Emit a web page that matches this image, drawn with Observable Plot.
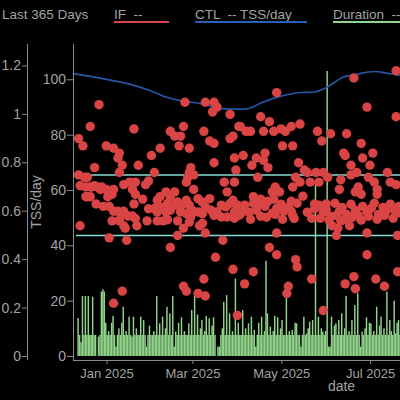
<!DOCTYPE html>
<html>
<head>
<meta charset="utf-8">
<script src="https://cdn.jsdelivr.net/npm/d3@7"></script>
<script src="https://cdn.jsdelivr.net/npm/@observablehq/plot@0.6"></script>
<style>
html, body { margin: 0; padding: 0; background: #000; overflow: hidden; width: 400px; height: 400px; }
#wrap { position: relative; width: 640px; }
#legend { position: relative; width: 640px; height: 30px; font-family: "Liberation Sans", Arial, sans-serif; font-size: 13.5px; color: #a3a3a3; }
#legend .item { position: absolute; top: 7.5px; line-height: 13.5px; white-space: pre; }
#legend .bar { position: absolute; top: 20.5px; height: 2px; }
#chart { width: 640px; }
#ylabel { position: absolute; left: 36px; top: 202px; transform: translate(-50%, -50%) rotate(-90deg); font-family: "Liberation Sans", Arial, sans-serif; font-size: 14px; line-height: 14px; color: #a3a3a3; white-space: nowrap; }
</style>
</head>
<body>
<div id="wrap">
<div id="legend"></div>
<div id="chart"></div>
<div id="ylabel"></div>
</div>
<script>
// ---------------- data ----------------
const DAY = 864e5;
const title = "Last 365 Days";
const legendItems = [
  {label: "IF  --", color: "#d94444", left: 114, width: 55},
  {label: "CTL  -- TSS/day", color: "#2a5fb3", left: 195, width: 112},
  {label: "Duration  --", color: "#90d48a", left: 333, width: 130}
];
const domainStart = "2024-12-09";
const domainEnd = "2025-12-12";
const xTickDates = ["2025-01-01", "2025-03-01", "2025-05-01", "2025-07-01"];
const tssTicks = [0, 20, 40, 60, 80, 100];
const ifTicks = [0, 0.2, 0.4, 0.6, 0.8, 1, 1.2];
const ifRefLines = [0.5, 0.75];
const tssMax = 112.75, tssMin = -1.45;
const ifAxisTop = 1.2, tssAtIfTop = 105; // IF 1.2 is drawn level with 105 TSS/day
const yLabel = "TSS/day", xLabel = "date";

// CTL (TSS/day), days counted from 2025-01-01
const ctlOrigin = "2025-01-01";
const ctlDays   = [-23, -3, 14, 28, 41, 52, 66, 80, 91, 96, 107, 119, 133, 141, 151, 162, 171, 183, 192, 201];
const ctlValues = [102.2, 100.4, 98.6, 96.4, 93.7, 92.3, 91.3, 89.5, 89.4, 89.5, 91.9, 94.0, 95.4, 95.5, 97.3, 100.9, 101.9, 103.0, 102.4, 101.6];

// Daily duration bars, one value per day from 2024-12-09
const durationStart = "2024-12-09";
const durationValues = [
  0,0,0,13.7,7.6,5,21.7,7.6,21.7,7.6,
  21.7,7.6,7.6,21.4,7.6,7.6,0,7,7.6,23.3,
  24.1,23.3,12,7.6,9,7.6,12,14.5,7.6,3.4,
  7.6,10,7.6,12,17.8,7.6,9,7.6,14.2,7.6,
  7,14.2,7.6,10,7.6,7.6,14.2,7.6,13,7.6,
  3.4,7.6,11,7.6,7.6,9,7.6,21.7,7.6,11.8,
  7.6,14.2,7.6,10,17.8,7.6,15.4,7.6,21.7,3.4,
  8.8,7.6,12,7.6,14,7.6,9,7.6,7.6,11.8,
  7.6,16.6,7.6,21.7,7.6,15,7.6,10,13,7.6,
  9,14.5,7.6,13.6,7.6,11,14,7.6,0,3.4,
  3.4,7.6,10,19.6,7.6,22,7.6,15.4,7.6,9,
  7.6,28,7.6,12,7.6,7.6,16.6,7.6,10,7.6,
  11.8,7.6,14.2,7.6,9.4,3.4,7.6,12,7.6,14.2,
  7.6,9,34.4,15.4,7.6,10.6,7.6,9,14.5,7.6,
  14,7.6,10,13,7.6,7.6,21.4,7.6,9,7.6,
  9.4,7.6,12,11.8,7.6,7.6,3.4,7.6,14.2,7.6,
  8.2,10,12.4,7.6,13,7.6,63,7.6,14.2,7.6,
  10,8.8,7.6,9,103,3.4,3.4,14.2,7.6,11,
  11.8,7.6,13,7.6,15.4,7.6,10,21.7,7.6,9,
  7.6,13,7.6,18.4,7.6,22.7,7.6,3.4,8.8,7.6,
  10,14,7.6,12,11.8,7.6,9,7.6,17.8,7.6,
  11,14.2,7.6,10,7.6,23.3,7.6,13,9,7.6,
  20,8.2,12,13,7.6
];

// IF readings: [day from 2025-01-01, IF]
const ifOrigin = "2025-01-01";
const ifReadings = [
  [-6,1.04],[53,1.05],[67,1.05],[73,1.05],[75,1.03],[72,1.01],[84,1.00],[-12,0.95],[18,0.94],[52,0.95],
  [66,0.93],[90,0.95],[43,0.93],[46,0.91],[50,0.91],[-20,0.90],[-17,0.87],[-1,0.87],[4,0.86],[36,0.86],
  [49,0.87],[56,0.86],[70,0.89],[73,0.88],[84,0.90],[8,0.84],[7,0.82],[30,0.83],[87,0.82],[10,0.79],
  [8,0.76],[21,0.79],[-9,0.78],[73,0.80],[88,0.77],[57,0.78],[56,0.76],[55,0.74],[59,0.75],[54,0.72],
  [32,0.76],[-16,0.74],[-14,0.74],[-20,0.75],
  [116,1.09],[169,1.15],[198,1.18],[178,1.03],[198,0.99],[105,0.99],[111,0.97],[91,0.95],[95,0.93],[98,0.93],
  [107,0.93],[114,0.93],[119,0.94],[122,0.93],[126,0.95],[132,0.96],[144,0.93],[147,0.89],[153,0.92],[164,0.92],
  [86,0.91],[120,0.87],[127,0.87],[174,0.88],[182,0.84],[162,0.84],[163,0.83],[93,0.83],[102,0.82],[99,0.79],
  [108,0.84],[107,0.81],[110,0.78],[131,0.80],[175,0.82],[180,0.79],[167,0.79],[171,0.76],[167,0.75],[103,0.74],
  [129,0.74],[135,0.77],[137,0.76],[132,0.72],[143,0.76],[148,0.76],[151,0.74],[139,0.72],[145,0.72],[192,0.76],
  [194,0.72],[179,0.74],[183,0.72],[160,0.73],
  [87,0.72],[127,0.70],[115,0.70],[113,0.68],[118,0.68],[172,0.70],[170,0.68],[174,0.67],[185,0.69],[185,0.67],
  [159,0.69],[198,0.71],[100,0.66],[105,0.65],[114,0.65],[142,0.63],[142,0.61],[150,0.63],[128,0.57],[126,0.60],
  [154,0.54],[158,0.53],[160,0.56],[166,0.54],
  [116,0.51],[157,0.50],[178,0.51],[199,0.50],[111,0.45],[86,0.36],[94,0.30],[100,0.35],[89,0.17],[116,0.42],
  [129,0.40],[130,0.37],[124,0.29],[123,0.26],[140,0.32],[148,0.19],[178,0.42],[169,0.33],[163,0.30],[170,0.28],
  [184,0.32],[190,0.29],[199,0.35],
  [-19,0.54],[1,0.49],[13,0.48],[48,0.50],[43,0.45],[67,0.51],[79,0.48],[74,0.41],[66,0.32],[52,0.29],
  [54,0.27],[10,0.27],[62,0.26],[67,0.25],[4,0.22],
  [-19,0.705],[-15,0.70],[-11,0.70],[-4,0.70],[-1,0.69],[4,0.69],[11,0.71],[15,0.72],[19,0.72],[26,0.71],
  [28,0.725],[80,0.72],[40,0.68],[46,0.68],[59,0.69],[82,0.68],[-15,0.66],[-12,0.66],[0,0.66],[3,0.67],
  [17,0.69],[19,0.67],[24,0.65],[36,0.66],[-8,0.63],[-3,0.62],[1,0.62],[18,0.63],[28,0.61],[4,0.60],
  [7,0.60],[11,0.60],[14,0.58],[9,0.58],[3,0.56],[8,0.56],[17,0.58],[19,0.57],[20,0.54],[11,0.54],
  [12,0.53],[27,0.56],[34,0.56],[38,0.56],[41,0.565],[48,0.56],[52,0.53],[56,0.555],[63,0.54],[65,0.55],
  [-12,0.70],[-9,0.705],[-7,0.70],[-14,0.66],[-5,0.69],
  [34,0.645],[36,0.618],[41,0.632],[43,0.659],[46,0.625],[48,0.638],[50,0.618],[54,0.645],[56,0.625],[58,0.604],
  [62,0.652],[65,0.638],[67,0.618],[70,0.652],[71,0.604],[75,0.597],[78,0.625],[81,0.618],[84,0.632],[87,0.597],
  [89,0.625],[90,0.583],[82,0.576],[78,0.576],[73,0.583],[65,0.590],[62,0.597],[57,0.576],[54,0.590],[50,0.597],
  [43,0.604],[40,0.597],[34,0.597],[32,0.611],
  [86,0.645],[89,0.612],[91,0.587],[94,0.625],[97,0.596],[100,0.633],[102,0.604],[105,0.579],[108,0.620],[110,0.641],
  [113,0.592],[116,0.612],[119,0.629],[121,0.600],[124,0.616],[127,0.583],[130,0.633],
  [87,0.571],[93,0.600],[98,0.567],[104,0.629],[109,0.575],[115,0.587],[120,0.567],[126,0.641],
  [134,0.662],[137,0.596],[140,0.571],
  [145,0.625],[148,0.596],[150,0.608],[153,0.579],[156,0.633],[159,0.600],[161,0.616],[164,0.587],[167,0.629],[170,0.604],
  [172,0.583],[175,0.620],[178,0.596],[181,0.612],[183,0.633],[186,0.587],[189,0.616],[191,0.600],[194,0.629],[197,0.604],
  [200,0.620],
  [146,0.571],[152,0.563],[157,0.583],[163,0.567],[168,0.575],[174,0.563],[179,0.579],[185,0.567],[190,0.583],[196,0.571],
  [201,0.592]
];

// ---------------- derived tables ----------------
const utc = s => new Date(s + "T00:00:00Z");
const IF_TO_TSS = tssAtIfTop / ifAxisTop;
const xStart = utc(domainStart), xEnd = utc(domainEnd);
const ctl = ctlDays.map((d, i) => ({date: new Date(+utc(ctlOrigin) + d * DAY), value: ctlValues[i]}));
const durations = durationValues.map((v, i) => ({start: new Date(+utc(durationStart) + i * DAY), end: new Date(+utc(durationStart) + (i + 1) * DAY), value: v})).filter(d => d.value > 0);
const dots = ifReadings.map(([d, v]) => ({date: new Date(+utc(ifOrigin) + d * DAY + DAY / 2), value: v}));

// ---------------- legend & y label ----------------
const legend = document.getElementById("legend");
legend.innerHTML = `<span class="item" style="left:2px">${title}</span>` +
  legendItems.map(it => `<span class="item" style="left:${it.left}px">${it.label}</span><div class="bar" style="left:${it.left}px;width:${it.width}px;background:${it.color}"></div>`).join("");
document.getElementById("ylabel").textContent = yLabel;

// ---------------- chart ----------------
const gray = "#a3a3a3", axisGray = "#8a8a8a";
const chart = Plot.plot({
  width: 640,
  height: 370,
  marginTop: 14,
  marginBottom: 40,
  marginLeft: 73,
  marginRight: 31,
  style: {background: "#000", color: gray, fontFamily: "'Liberation Sans', Arial, sans-serif", fontSize: "13.5px", maxWidth: "none"},
  x: {type: "utc", domain: [xStart, xEnd]},
  y: {domain: [tssMin, tssMax]},
  marks: [
    Plot.rectY(durations, {x1: "start", x2: "end", y: "value", fill: "#90d48a"}),
    Plot.ruleY(ifRefLines, {y: d => d * IF_TO_TSS, stroke: "#86dcd6", strokeWidth: 1.5, insetLeft: 3}),
    Plot.line(ctl, {x: "date", y: "value", stroke: "#2556a3", strokeWidth: 1.7, curve: "monotone-x"}),
    Plot.dot(dots, {x: "date", y: d => d.value * IF_TO_TSS, r: 4.7, fill: "#d94444"}),
    // axis lines
    Plot.ruleX([xStart], {stroke: axisGray}),
    Plot.ruleX([xStart], {stroke: axisGray, dx: -46}),
    Plot.ruleY([tssMin], {stroke: axisGray}),
    // axes
    Plot.axisY({ticks: tssTicks, tickSize: 6, tickPadding: 1.5, label: null, stroke: axisGray, fontSize: 14}),
    Plot.axisY({ticks: ifTicks.map(v => v * IF_TO_TSS), tickFormat: v => d3.format("~g")(+(v / IF_TO_TSS).toFixed(2)), tickSize: 5, tickPadding: 1.5, dx: -46, label: null, stroke: axisGray, fontSize: 14}),
    Plot.axisX({ticks: xTickDates.map(utc), tickFormat: d3.utcFormat("%b %Y"), tickSize: 4, tickPadding: 4, label: null, stroke: axisGray, fontSize: 13}),
    Plot.text([xLabel], {frameAnchor: "bottom", dy: 30, fill: gray, fontSize: 14})
  ]
});
document.getElementById("chart").append(chart);
</script>
</body>
</html>
